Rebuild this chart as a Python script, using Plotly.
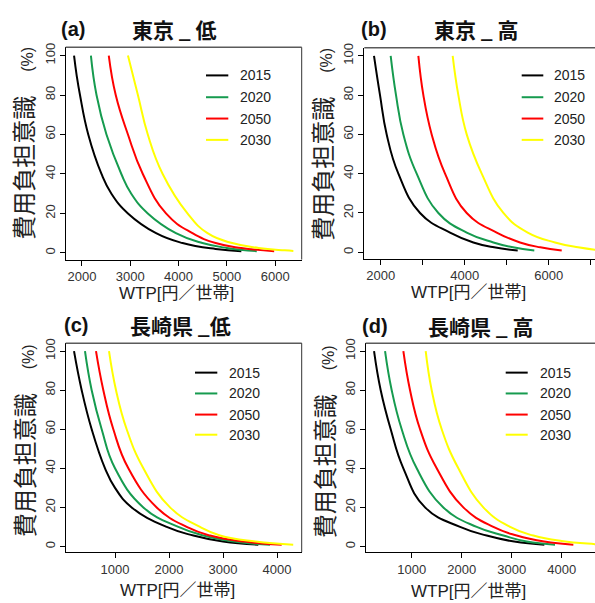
import plotly.graph_objects as go

# ---- data: WTP [yen / household] vs. willingness to bear the cost [%] ----
years = ["2015", "2020", "2050", "2030"]
colors = ["#000000", "#169B4F", "#FF0000", "#FFFF00"]

# (a) Tokyo, low
a_2015_x = [1836, 1890, 1959, 2130, 2404, 2610, 2952, 3534, 4082, 4767, 5300]
a_2015_y = [100, 90, 80, 60, 40, 30, 20, 10, 5, 2, 0.9]
a_2020_x = [2185, 2301, 2507, 2815, 3021, 3363, 3945, 4493, 5000, 5620]
a_2020_y = [100, 80, 60, 40, 30, 20, 10, 5, 2.5, 0.9]
a_2050_x = [2555, 2699, 2952, 3260, 3740, 4288, 4767, 5300, 5980]
a_2050_y = [100, 80, 60, 40, 20, 10, 5, 2.5, 0.9]
a_2030_x = [2952, 3158, 3363, 3671, 4185, 4600, 5110, 5657, 6200, 6377]
a_2030_y = [100, 80, 60, 40, 20, 10, 5, 2.5, 1.3, 1.0]

# (b) Tokyo, high
b_2015_x = [1841, 1984, 2143, 2421, 2937, 3651, 4206, 4700, 5262]
b_2015_y = [100, 80, 60, 40, 20, 10, 5, 2.5, 0.9]
b_2020_x = [2238, 2365, 2540, 2857, 3373, 4048, 4683, 5150, 5657]
b_2020_y = [100, 80, 60, 40, 20, 10, 5, 2.5, 0.9]
b_2050_x = [2897, 3016, 3214, 3532, 4048, 4762, 5317, 5800, 6310]
b_2050_y = [100, 80, 60, 40, 20, 10, 5, 2.5, 0.9]
b_2030_x = [3714, 3849, 4048, 4405, 4921, 5500, 6150, 6700, 7102, 7500]
b_2030_y = [100, 80, 60, 40, 20, 10, 5, 2.5, 1.3, 0.8]

# (c) Nagasaki, low
c_2015_x = [241, 383, 568, 815, 1000, 1309, 1957, 2451, 3000, 3654]
c_2015_y = [100, 80, 60, 40, 30, 20, 10, 5.6, 2.5, 0.9]
c_2020_x = [444, 568, 753, 1000, 1525, 2173, 2636, 3200, 3870]
c_2020_y = [100, 80, 60, 40, 20, 10, 5.6, 2.5, 0.9]
c_2050_x = [648, 784, 969, 1247, 1772, 2327, 2759, 3400, 4087]
c_2050_y = [100, 80, 60, 40, 20, 10, 5.6, 2.5, 0.9]
c_2030_x = [889, 1019, 1216, 1525, 2019, 2574, 2944, 3600, 4300]
c_2030_y = [100, 80, 60, 40, 20, 10, 5.6, 2.5, 0.9]

# (d) Nagasaki, high
d_2015_x = [247, 380, 580, 833, 1267, 1967, 2500, 3050, 3653]
d_2015_y = [100, 80, 60, 40, 20, 10, 5.6, 2.5, 0.9]
d_2020_x = [467, 600, 800, 1100, 1633, 2300, 2833, 3300, 3867]
d_2020_y = [100, 80, 60, 40, 20, 10, 5.6, 2.5, 0.9]
d_2050_x = [833, 967, 1167, 1500, 2033, 2633, 3100, 3650, 4233]
d_2050_y = [100, 80, 60, 40, 20, 10, 5.6, 2.5, 0.9]
d_2030_x = [1280, 1400, 1600, 1933, 2433, 2967, 3433, 4000, 4666, 4900]
d_2030_y = [100, 80, 60, 40, 20, 10, 5.6, 2.8, 1.2, 0.8]

panel_tags = ["(a)", "(b)", "(c)", "(d)"]
panel_names = ["東京 _ 低", "東京 _ 高", "長崎県 _低", "長崎県 _ 高"]
x_title = "WTP[円／世帯]"
y_title = "費用負担意識　<span style='font-size:16px'>(%)</span>"

y_ticks = [0, 20, 40, 60, 80, 100]
a_ticks = [2000, 3000, 4000, 5000, 6000]
a_ticktext = ["2000", "3000", "4000", "5000", "6000"]
b_ticks = [2000, 3000, 4000, 5000, 6000, 7000]
b_ticktext = ["2000", "", "4000", "", "6000", ""]
cd_ticks = [1000, 2000, 3000, 4000]
cd_ticktext = ["1000", "2000", "3000", "4000"]

series = {
    "a": [(a_2015_x, a_2015_y), (a_2020_x, a_2020_y), (a_2050_x, a_2050_y), (a_2030_x, a_2030_y)],
    "b": [(b_2015_x, b_2015_y), (b_2020_x, b_2020_y), (b_2050_x, b_2050_y), (b_2030_x, b_2030_y)],
    "c": [(c_2015_x, c_2015_y), (c_2020_x, c_2020_y), (c_2050_x, c_2050_y), (c_2030_x, c_2030_y)],
    "d": [(d_2015_x, d_2015_y), (d_2020_x, d_2020_y), (d_2050_x, d_2050_y), (d_2030_x, d_2030_y)],
}

# ---- layout geometry (pixels) ----
W, H = 595, 603
LATIN = "Liberation Sans, Arial, sans-serif"
CJK = "Liberation Sans, Noto Sans CJK JP, sans-serif"

panels = [
    dict(key="a", box=(65.7, 301.7, 42.7, 256.7), xr=[1663, 6550], yr=[-3.37, 104.17],
         ticks=a_ticks, ticktext=a_ticktext, right=True,
         tag=(73, 24), name=(174, 24), xt=(176, 291), yt=(25, 140),
         leg_line=(206, 228.3), leg_text=237.7, leg_y=[71, 93, 114.5, 136]),
    dict(key="b", box=(364.3, 595, 43, 256), xr=[1610, 7102], yr=[-3.37, 104.17],
         ticks=b_ticks, ticktext=b_ticktext, right=False,
         tag=(374, 24), name=(476, 24), xt=(468, 290), yt=(324, 141),
         leg_line=(521.7, 543.3), leg_text=552, leg_y=[71, 93, 114.5, 136]),
    dict(key="c", box=(65.7, 301.7, 341, 551.7), xr=[87, 4457], yr=[-2.89, 104.06],
         ticks=cd_ticks, ticktext=cd_ticktext, right=True,
         tag=(76, 322.5), name=(180, 322.5), xt=(177.5, 590), yt=(25, 440),
         leg_line=(195, 217.3), leg_text=226.7, leg_y=[370.7, 391.7, 413, 433.3]),
    dict(key="d", box=(365.7, 595, 341, 551.7), xr=[80, 4666], yr=[-2.89, 104.06],
         ticks=cd_ticks, ticktext=cd_ticktext, right=False,
         tag=(375, 324), name=(480, 324), xt=(468.3, 591.5), yt=(325, 440),
         leg_line=(505.7, 527.7), leg_text=537.7, leg_y=[370.7, 391.7, 413, 433.3]),
]


def px(x):
    return x / W


def py(y):
    return 1 - y / H


fig = go.Figure()
layout = dict(width=W, height=H, margin=dict(l=0, r=0, t=0, b=0),
              paper_bgcolor="white", plot_bgcolor="white", showlegend=False)
annotations = []
shapes = []

for i, p in enumerate(panels):
    n = i + 1
    xa = "x" if n == 1 else f"x{n}"
    ya = "y" if n == 1 else f"y{n}"
    left, right, top, bottom = p["box"]

    for (xs, ys), col in zip(series[p["key"]], colors):
        fig.add_trace(go.Scatter(x=xs, y=ys, mode="lines", xaxis=xa, yaxis=ya,
                                 line=dict(color=col, width=2, shape="spline", smoothing=1.3),
                                 hoverinfo="skip"))

    layout["xaxis" if n == 1 else f"xaxis{n}"] = dict(
        domain=[px(left), min(px(right), 1.0)], range=p["xr"], anchor=ya,
        showgrid=False, zeroline=False, showline=True, linecolor="#000", linewidth=1,
        ticks="outside", ticklen=5, tickcolor="#000", tickwidth=1,
        tickvals=p["ticks"], ticktext=p["ticktext"],
        tickfont=dict(family=LATIN, size=13, color="#333"),
    )
    layout["yaxis" if n == 1 else f"yaxis{n}"] = dict(
        domain=[py(bottom), py(top)], range=p["yr"], anchor=xa,
        showgrid=False, zeroline=False, showline=True, linecolor="#000", linewidth=1,
        ticks="outside", ticklen=5, tickcolor="#000", tickwidth=1,
        tickvals=y_ticks, tickangle=-90,
        tickfont=dict(family=LATIN, size=13, color="#333"),
    )

    # top border (and right border where it falls inside the page)
    shapes.append(dict(type="line", xref="paper", yref="paper",
                       x0=px(left), x1=min(px(right), 1.0), y0=py(top), y1=py(top),
                       line=dict(color="#5a5a5a", width=1.5)))
    if p["right"]:
        shapes.append(dict(type="line", xref="paper", yref="paper",
                           x0=px(right), x1=px(right), y0=py(bottom), y1=py(top),
                           line=dict(color="#333", width=1)))

    # legend
    for j, (yr_, col) in enumerate(zip(years, colors)):
        ly = p["leg_y"][j]
        shapes.append(dict(type="line", xref="paper", yref="paper",
                           x0=px(p["leg_line"][0]), x1=px(p["leg_line"][1]),
                           y0=py(ly), y1=py(ly), line=dict(color=col, width=2)))
        annotations.append(dict(text=yr_, x=px(p["leg_text"]), y=py(ly), xref="paper", yref="paper",
                                xanchor="left", yanchor="middle", showarrow=False,
                                font=dict(family=LATIN, size=14, color="#222")))

    # panel titles
    annotations.append(dict(text=f"<b>{panel_tags[i]}</b>", x=px(p["tag"][0]), y=py(p["tag"][1]),
                            xref="paper", yref="paper", xanchor="center", yanchor="middle",
                            showarrow=False, font=dict(family=LATIN, size=20, color="#111")))
    annotations.append(dict(text=f"<b>{panel_names[i]}</b>", x=px(p["name"][0]), y=py(p["name"][1]),
                            xref="paper", yref="paper", xanchor="center", yanchor="middle",
                            showarrow=False, font=dict(family="Noto Sans CJK JP", size=21, color="#111")))
    # axis titles
    annotations.append(dict(text=x_title, x=px(p["xt"][0]), y=py(p["xt"][1]),
                            xref="paper", yref="paper", xanchor="center", yanchor="middle",
                            showarrow=False, font=dict(family=CJK, size=17, color="#222")))
    annotations.append(dict(text=y_title, x=px(p["yt"][0]), y=py(p["yt"][1]), textangle=-90,
                            xref="paper", yref="paper", xanchor="center", yanchor="middle",
                            showarrow=False, font=dict(family=CJK, size=24, color="#222")))

layout["annotations"] = annotations
layout["shapes"] = shapes
fig.update_layout(**layout)
fig.write_html("out.html")
